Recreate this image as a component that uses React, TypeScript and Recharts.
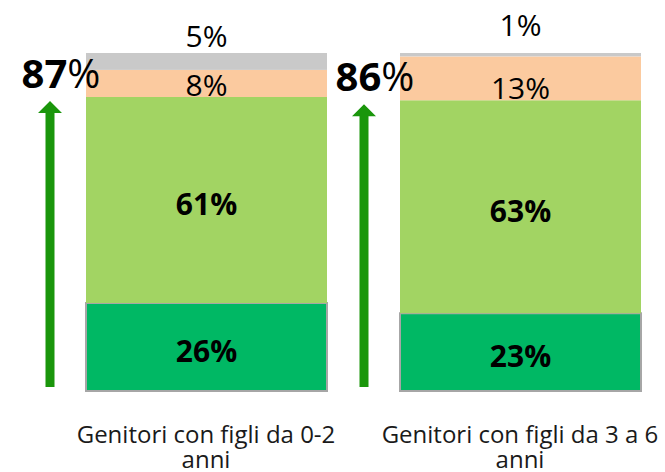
import React from 'react';
import { BarChart, Bar, XAxis, YAxis, LabelList } from 'recharts';

// Survey shares per group (percent)
const categories = ['Genitori con figli da 0-2 anni', 'Genitori con figli da 3 a 6 anni'];
const molto = [26, 23];
const abbastanza = [61, 63];
const poco = [8, 13];
const perNulla = [5, 1];

const data = categories.map((name, i) => ({
  name,
  molto: molto[i],
  abbastanza: abbastanza[i],
  poco: poco[i],
  perNulla: perNulla[i],
}));

const COLORS = {
  molto: '#00b864',
  abbastanza: '#a2d463',
  poco: '#fbca9f',
  perNulla: '#c9c9c9',
  arrow: '#1a960b',
  border: '#a6a6a6',
};

const FONT = '"Open Sans", sans-serif';
const CHART_W = 700;
const CHART_H = 472;
const X_AXIS_H = 81;
const PLOT_BOTTOM = CHART_H - X_AXIS_H;

// inside labels: baseline a bit below segment centre
const centerLabel = (props: any) => {
  const { x, y, width, height, value } = props;
  return (
    <text x={x + width / 2} y={y + height / 2 + 15} textAnchor="middle"
      fontFamily={FONT} fontSize={30} fontWeight={700} fill="#000">
      {value}%
    </text>
  );
};

const pocoLabel = (props: any) => {
  const { x, y, width, height, value } = props;
  return (
    <text x={x + width / 2} y={y + height - 1} textAnchor="middle"
      fontFamily={FONT} fontSize={30} fill="#000">
      {value}%
    </text>
  );
};

const TOP_OFFSETS = [6, 17];
const topLabel = (props: any) => {
  const { x, y, width, value, index } = props;
  return (
    <text x={x + width / 2} y={y - TOP_OFFSETS[index]} textAnchor="middle"
      fontFamily={FONT} fontSize={30} fill="#000">
      {value}%
    </text>
  );
};

// top segment also draws the "positive" arrow and its total on the left
const TopShape = (props: any) => {
  const { x, y, width, height, payload } = props;
  const total = payload.molto + payload.abbastanza + payload.poco + payload.perNulla;
  const ppu = (PLOT_BOTTOM - y) / total;
  const positive = payload.molto + payload.abbastanza;
  const tip = PLOT_BOTTOM - positive * ppu + 4;
  const cx = x - 36;
  const headH = 12;
  const pts = [
    [cx - 12, tip + headH],
    [cx, tip],
    [cx + 12, tip + headH],
    [cx + 4.5, tip + headH],
    [cx + 4.5, PLOT_BOTTOM - 4],
    [cx - 4.5, PLOT_BOTTOM - 4],
    [cx - 4.5, tip + headH],
  ].map((p) => p.join(',')).join(' ');
  return (
    <g>
      <rect x={x} y={y} width={width} height={height} fill={COLORS.perNulla} />
      <polygon points={pts} fill={COLORS.arrow} />
      <text x={cx + 11} y={tip - 13} textAnchor="middle" fontFamily={FONT} fontSize={40} fill="#000">
        <tspan fontWeight={700}>{positive}</tspan>
        <tspan>%</tspan>
      </text>
    </g>
  );
};

const CategoryTick = (props: any) => {
  const { x, payload } = props;
  const words = String(payload.value).split(' ');
  const last = words.pop();
  return (
    <text x={x} textAnchor="middle" fontFamily={FONT} fontSize={24} fill="#1a1a1a">
      <tspan x={x} y={PLOT_BOTTOM + 52}>{words.join(' ')}</tspan>
      <tspan x={x} y={PLOT_BOTTOM + 77}>{last}</tspan>
    </text>
  );
};

export default function App() {
  return (
    <div style={{ position: 'absolute', left: 0, top: 0, width: 665, height: 472, overflow: 'hidden', background: '#fff' }}>
      <BarChart width={CHART_W} height={CHART_H} data={data}
        margin={{ top: 53, right: 0, left: 0, bottom: 0 }} barSize={241}>
        <XAxis dataKey="name" height={X_AXIS_H} axisLine={false} tickLine={false}
          padding={{ left: 49, right: 23 }} tick={<CategoryTick />} interval={0} />
        <YAxis hide domain={[0, 100]} />
        <Bar dataKey="molto" stackId="a" fill={COLORS.molto} stroke={COLORS.border} strokeWidth={2} isAnimationActive={false}>
          <LabelList dataKey="molto" content={centerLabel} />
        </Bar>
        <Bar dataKey="abbastanza" stackId="a" fill={COLORS.abbastanza} isAnimationActive={false}>
          <LabelList dataKey="abbastanza" content={centerLabel} />
        </Bar>
        <Bar dataKey="poco" stackId="a" fill={COLORS.poco} isAnimationActive={false}>
          <LabelList dataKey="poco" content={pocoLabel} />
        </Bar>
        <Bar dataKey="perNulla" stackId="a" fill={COLORS.perNulla} shape={<TopShape />} isAnimationActive={false}>
          <LabelList dataKey="perNulla" content={topLabel} />
        </Bar>
      </BarChart>
    </div>
  );
}
